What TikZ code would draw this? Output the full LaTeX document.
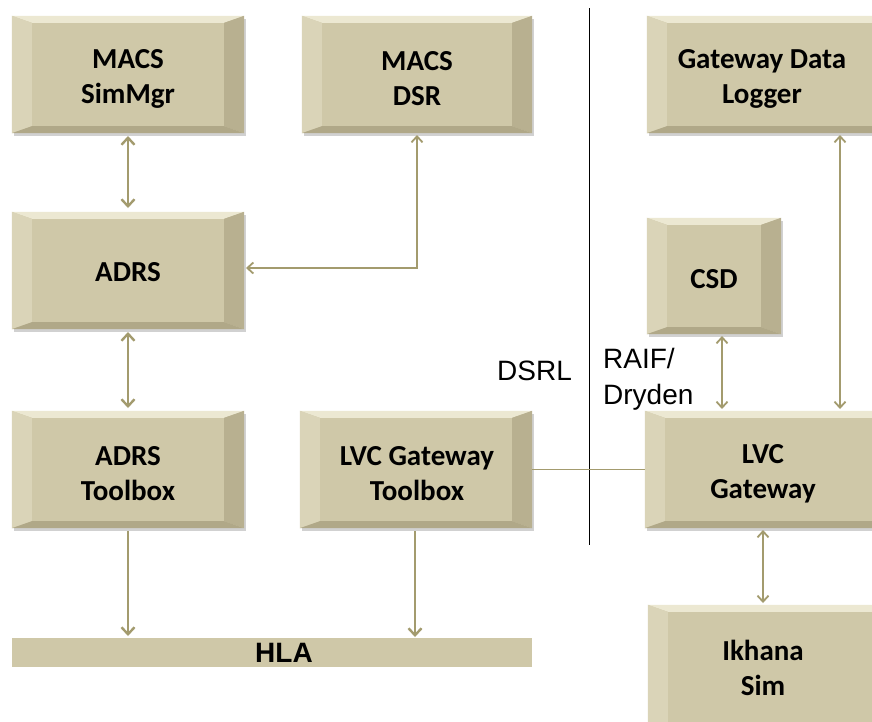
\documentclass[tikz,border=0pt]{standalone}
\usepackage{fontspec}
\setmainfont{Liberation Sans}
\newfontfamily\boxfont{Carlito}
\usetikzlibrary{calc,arrows.meta,shadows}
\definecolor{face}{RGB}{207,200,168}
\definecolor{topf}{RGB}{236,232,210}
\definecolor{leftf}{RGB}{218,212,184}
\definecolor{rightf}{RGB}{184,176,144}
\definecolor{botf}{RGB}{176,168,136}
\definecolor{arr}{RGB}{163,155,110}
\tikzset{
  bbox/.style={rectangle, inner sep=0pt, fill=face, draw=none,
    general shadow={shadow xshift=2pt, shadow yshift=-3pt, fill=black, opacity=0.18}},
  btext/.style={font=\boxfont\bfseries\fontsize{29}{35}\selectfont, align=center, text=black, inner sep=0pt},
  thick arr/.style={draw=arr, line width=2.4pt, {Straight Barb[length=7pt,width=13pt,line width=2.4pt]}-{Straight Barb[length=7pt,width=13pt,line width=2.4pt]}},
  thin arr/.style={draw=arr, line width=1.1pt, {Straight Barb[length=6pt,width=11pt,line width=1.8pt]}-{Straight Barb[length=6pt,width=11pt,line width=1.8pt]}},
  down arr/.style={draw=arr, line width=2.4pt, -{Straight Barb[length=7pt,width=13pt,line width=2.4pt]}},
  plainline/.style={draw=arr, line width=1pt},
  lbl/.style={font=\fontsize{28}{36}\selectfont, align=left, inner sep=0pt, anchor=base west}
}
% #1 name, #2 x1, #3 y1, #4 x2, #5 y2, #6 text x, #7 text y, #8 text
\newcommand\bevbox[8]{%
  \node[bbox, minimum width=#4pt-#2pt, minimum height=#5pt-#3pt] (#1) at ({(#2+#4)/2},{(#3+#5)/2}) {};
  \fill[topf] (#1.north west) -- (#1.north east) -- ($(#1.north east)+(-20,7)$) -- ($(#1.north west)+(20,7)$) -- cycle;
  \fill[leftf] (#1.north west) -- ($(#1.north west)+(20,7)$) -- ($(#1.south west)+(20,-7)$) -- (#1.south west) -- cycle;
  \fill[rightf] (#1.north east) -- ($(#1.north east)+(-20,7)$) -- ($(#1.south east)+(-20,-7)$) -- (#1.south east) -- cycle;
  \fill[botf] (#1.south west) -- ($(#1.south west)+(20,-7)$) -- ($(#1.south east)+(-20,-7)$) -- (#1.south east) -- cycle;
  \node[btext] (#1-t) at (#6,#7) {#8};
}
\begin{document}
\begin{tikzpicture}[x=1pt,y=-1pt]
\useasboundingbox (0,0) rectangle (872,721);
\fill[white] (0,0) rectangle (872,721);

\bevbox{simmgr}{12}{16}{244}{133}{128}{79}{MACS\\SimMgr}
\bevbox{dsr}{302}{16}{532}{133}{417}{79}{MACS\\DSR}
\bevbox{logger}{647}{16}{900}{133}{762}{79}{Gateway Data\\Logger}
\bevbox{adrs}{12}{212}{244}{329}{128}{272}{ADRS}
\bevbox{csd}{647}{218}{781}{334}{714}{279}{CSD}
\bevbox{adrstb}{12}{411}{244}{528}{128}{474}{ADRS\\Toolbox}
\bevbox{lvctb}{300}{411}{532}{528}{417}{474}{LVC Gateway\\Toolbox}
\bevbox{lvcgw}{645}{411}{900}{528}{763}{474}{LVC\\Gateway}
\bevbox{ikhana}{648}{605}{900}{750}{763}{668}{Ikhana\\Sim}

\node[rectangle, fill=face, minimum width=520pt, minimum height=29pt, inner sep=0pt] (hla) at (272,652) {};
\node[font=\bfseries\fontsize{28}{30}\selectfont, inner sep=0pt] (hla-t) at (284,653) {HLA};

% separator
\coordinate (sepT) at (589,8);
\coordinate (sepB) at (589,545);
\draw[black, line width=0.9pt] (sepT) -- (sepB);

\node[lbl] (dsrl) at (497,380) {DSRL};
\node[lbl] (raif) at (603,404) {RAIF/\\Dryden};

% connectors
\coordinate (a1) at (128,136); \coordinate (a2) at (128,208);
\draw[thick arr] (a1) -- (a2);
\coordinate (b1) at (128,332); \coordinate (b2) at (128,408);
\draw[thick arr] (b1) -- (b2);
\coordinate (c1) at (128,531); \coordinate (c2) at (128,636);
\draw[down arr] (c1) -- (c2);
\coordinate (d1) at (415,531); \coordinate (d2) at (415,637);
\draw[down arr] (d1) -- (d2);
\coordinate (e1) at (417,135); \coordinate (e2) at (246,268);
\draw[thin arr] (e1) |- (e2);
\draw[plainline] (lvctb.east |- 0,469) -- (lvcgw.west |- 0,469);
\coordinate (f1) at (722,336); \coordinate (f2) at (722,409);
\draw[thin arr] (f1) -- (f2);
\coordinate (g1) at (840,135); \coordinate (g2) at (840,409);
\draw[thin arr] (g1) -- (g2);
\coordinate (h1) at (763,530); \coordinate (h2) at (763,603);
\draw[thin arr] (h1) -- (h2);
\end{tikzpicture}
\end{document}
